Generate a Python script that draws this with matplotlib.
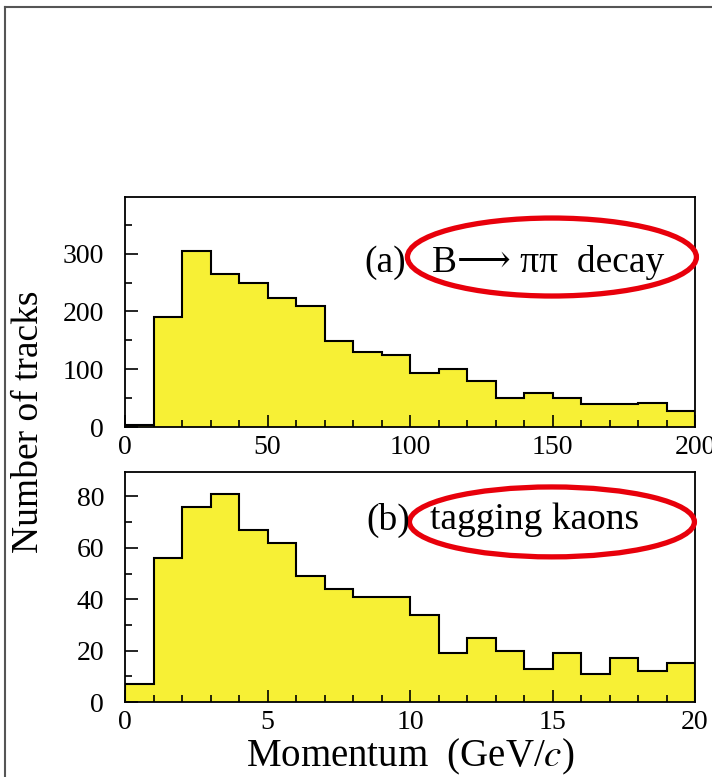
import numpy as np
import matplotlib
matplotlib.use("Agg")
import matplotlib.pyplot as plt
from matplotlib.patches import Ellipse
from matplotlib.lines import Line2D
from matplotlib.ticker import MultipleLocator

plt.rcParams['font.family'] = ['Liberation Serif', 'DejaVu Serif']
plt.rcParams['mathtext.fontset'] = 'stix'

# Data
edges_a = np.arange(0, 201, 10)
counts_a = [3, 190, 305, 264, 250, 223, 210, 148, 129, 124,
            94, 101, 79, 50, 58, 50, 39, 39, 42, 27]
edges_b = np.arange(0, 21, 1)
counts_b = [7, 56, 76, 81, 67, 62, 49, 44, 41, 41,
            34, 19, 25, 20, 13, 19, 11, 17, 12, 15]

tag_a = "(a)"
label_a = "B\u27f6 \u03c0\u03c0  decay"
tag_b = "(b)"
label_b = "tagging kaons"
xlabel = "Momentum  (GeV/$c$)"
ylabel = "Number of tracks"

W, H = 712, 777
fig = plt.figure(figsize=(W/100, H/100), dpi=100)

fill_color = '#f7f035'

def px_axes(l, r, t, b):
    return fig.add_axes([l/W, 1-b/H, (r-l)/W, (b-t)/H])

ax1 = px_axes(125, 695, 197, 427)
ax2 = px_axes(125, 695, 472, 702)

def draw_hist(ax, edges, counts, xmax, ymax, xmaj, xmin_, ymaj, ymin_):
    ax.stairs(counts, edges, fill=True, color=fill_color, zorder=1)
    ax.stairs(counts, edges, fill=False, color='black', lw=1.5, zorder=2)
    ax.set_xlim(0, xmax)
    ax.set_ylim(0, ymax)
    ax.xaxis.set_major_locator(MultipleLocator(xmaj))
    ax.xaxis.set_minor_locator(MultipleLocator(xmin_))
    ax.yaxis.set_major_locator(MultipleLocator(ymaj))
    ax.yaxis.set_minor_locator(MultipleLocator(ymin_))
    ax.tick_params(which='both', direction='in', top=False, right=False,
                   labelsize=20, width=1.2)
    ax.tick_params(axis='y', pad=15)
    ax.tick_params(axis='x', pad=6)
    ax.tick_params(which='major', length=9)
    ax.tick_params(which='minor', length=5)
    for s in ax.spines.values():
        s.set_linewidth(1.3)

draw_hist(ax1, edges_a, counts_a, 200, 398, 50, 10, 100, 50)
draw_hist(ax2, edges_b, counts_b, 20, 89.5, 5, 1, 20, 10)

def px_text(x, y, s, fs=27):
    fig.text(x/W, 1-y/H, s, fontsize=fs, va='center', ha='left')

px_text(364, 263, tag_a)
px_text(432, 263, label_a)
px_text(366, 520, tag_b)
px_text(430, 520, label_b)

ax1.add_patch(Ellipse((0.749, 0.739), 0.507, 0.339, transform=ax1.transAxes,
                      fill=False, ec='#e8000b', lw=3.8, zorder=5, clip_on=False))
ax2.add_patch(Ellipse((0.749, 0.783), 0.50, 0.304, transform=ax2.transAxes,
                      fill=False, ec='#e8000b', lw=3.8, zorder=5, clip_on=False))

fig.text(410/W, 1-757/H, xlabel, fontsize=28, ha='center', va='center')
fig.text(29/W, 1-422/H, ylabel, fontsize=27, ha='center', va='center',
         rotation=90)

fig.add_artist(Line2D([5/W, 5/W], [0, 1-7/H], transform=fig.transFigure,
                      color='#555555', lw=1.5))
fig.add_artist(Line2D([5/W, 1], [1-7/H, 1-7/H], transform=fig.transFigure,
                      color='#555555', lw=1.5))

fig.savefig('out.png', dpi=100)
